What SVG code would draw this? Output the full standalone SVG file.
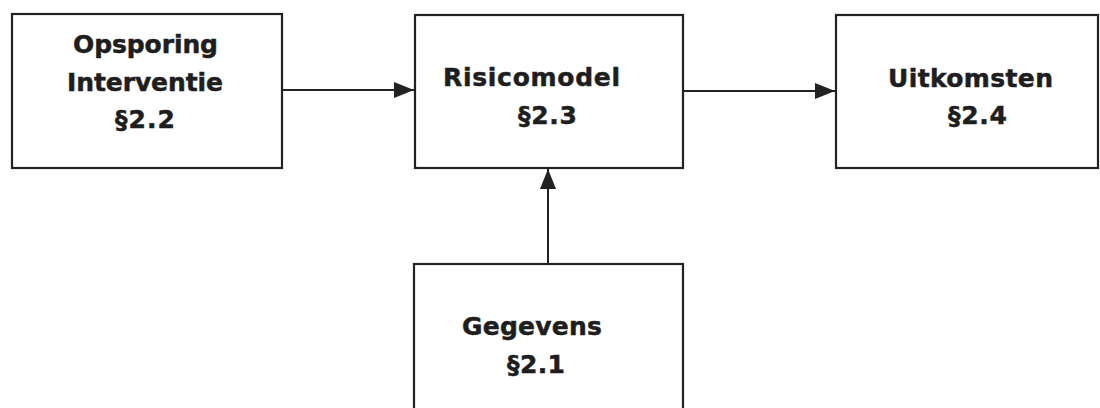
<svg xmlns="http://www.w3.org/2000/svg" width="1100" height="408" viewBox="0 0 1100 408">
  <style>
    .box { fill: #ffffff; stroke: #222222; stroke-width: 2.2; }
    .lbl { font-family: "DejaVu Sans", "Liberation Sans", Arial, sans-serif; font-weight: bold; font-size: 25px; fill: #1e1e1e; stroke: #1e1e1e; stroke-width: 0.5; }
    .conn { stroke: #222222; stroke-width: 2; fill: none; }
  </style>
  <defs>
    <marker id="arrow" markerUnits="userSpaceOnUse" markerWidth="22" markerHeight="18" refX="20" refY="8" orient="auto">
      <path d="M0,0 L20,8 L0,16 Z" fill="#222222"/>
    </marker>
  </defs>
  <rect width="1100" height="408" fill="#ffffff"/>

  <g id="node-opsporing">
    <rect class="box" x="12" y="14" width="270" height="154"/>
    <text class="lbl" x="73" y="53" textLength="145" lengthAdjust="spacing">Opsporing</text>
    <text class="lbl" x="67" y="91" textLength="156" lengthAdjust="spacing">Interventie</text>
    <text class="lbl" x="115" y="128" textLength="60" lengthAdjust="spacing">§2.2</text>
  </g>

  <g id="node-risicomodel">
    <rect class="box" x="415" y="15" width="268" height="153"/>
    <text class="lbl" x="443" y="86" textLength="177" lengthAdjust="spacing">Risicomodel</text>
    <text class="lbl" x="518" y="124" textLength="59" lengthAdjust="spacing">§2.3</text>
  </g>

  <g id="node-uitkomsten">
    <rect class="box" x="836" y="15" width="262" height="153"/>
    <text class="lbl" x="888" y="87" textLength="165" lengthAdjust="spacing">Uitkomsten</text>
    <text class="lbl" x="948" y="124" textLength="59" lengthAdjust="spacing">§2.4</text>
  </g>

  <g id="node-gegevens">
    <rect class="box" x="414" y="264" width="269" height="170"/>
    <text class="lbl" x="462" y="335" textLength="140" lengthAdjust="spacing">Gegevens</text>
    <text class="lbl" x="507" y="373" textLength="58" lengthAdjust="spacing">§2.1</text>
  </g>

  <g id="connectors">
    <line class="conn" x1="283" y1="90" x2="414" y2="90" marker-end="url(#arrow)"/>
    <line class="conn" x1="684" y1="91" x2="835" y2="91" marker-end="url(#arrow)"/>
    <line class="conn" x1="548" y1="263" x2="548" y2="169" marker-end="url(#arrow)"/>
  </g>
</svg>
